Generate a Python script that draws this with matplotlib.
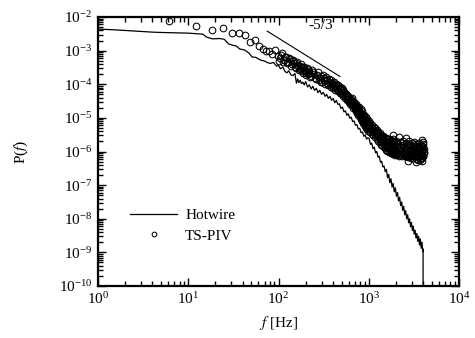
import numpy as np
import matplotlib
matplotlib.use("Agg")
import matplotlib.pyplot as plt
from matplotlib.ticker import LogLocator, NullFormatter

plt.rcParams['font.family'] = ['Liberation Serif', 'DejaVu Serif']
plt.rcParams['mathtext.fontset'] = 'stix'

# ---- Hotwire spectrum: frequency [Hz] and P(f) exponent (log10)
hw_f = [1, 1.5, 2, 3, 4, 5, 7, 10, 14.5, 16, 18.5, 22, 25, 28, 31, 34, 37, 42, 47, 51,
        56, 63, 70, 76, 81, 88, 95, 100, 105, 112, 118, 124, 130, 137, 145, 152, 158, 163,
        168, 174, 180, 186, 193, 200, 210, 220, 230, 240, 250, 262, 274, 287, 300, 314,
        328, 342, 357, 372, 388, 404, 420, 437, 455,
        473, 492, 511, 531, 551, 572, 594, 616, 639, 663, 688, 713, 739, 766, 794, 823,
        852, 882, 913, 945, 978,
        1011, 1045, 1080, 1116, 1152, 1190, 1228, 1267, 1307, 1348,
        1390, 1433, 1477, 1522, 1568, 1615, 1663, 1712, 1762, 1813,
        1865, 1918, 1972, 2027, 2083, 2140, 2198, 2257, 2317, 2378,
        2440, 2503, 2567, 2632, 2698, 2765, 2833, 2902, 2972, 3043,
        3115, 3188, 3262, 3337, 3413, 3490, 3568, 3647, 3727, 3808,
        3890, 3972,
        4000, 4001]
hw_logP = [-2.36, -2.38, -2.40, -2.43, -2.45, -2.46, -2.47, -2.48, -2.51, -2.60, -2.65,
           -2.64, -2.66, -2.80, -2.84, -2.86, -2.95, -2.98, -3.07, -3.19,
           -3.20, -3.28, -3.31, -3.36, -3.38, -3.35, -3.46, -3.44, -3.54, -3.49, -3.62,
           -3.66, -3.60, -3.72, -3.74, -3.68, -3.97, -3.84,
           -3.95, -3.88, -3.98, -3.94, -4.02, -3.92, -4.08, -4.02, -4.14, -4.06, -4.18,
           -4.12, -4.25, -4.18, -4.30, -4.24,
           -4.36, -4.30, -4.42, -4.36, -4.48, -4.42, -4.55, -4.48, -4.60,
           -4.58, -4.72, -4.68, -4.82, -4.79, -4.92, -4.88, -5.01, -4.98, -5.11, -5.09,
           -5.22, -5.20, -5.33, -5.31, -5.44, -5.42, -5.55, -5.51, -5.63, -5.59,
           -5.62, -5.79, -5.75, -5.92, -5.87, -6.04, -6.00, -6.17, -6.14, -6.32,
           -6.29, -6.46, -6.43, -6.60, -6.53, -6.78, -6.68, -6.93, -6.81, -7.06,
           -6.95, -7.20, -7.08, -7.33, -7.22, -7.47, -7.36, -7.61, -7.50, -7.75,
           -7.63, -7.88, -7.76, -8.00, -7.88, -8.12, -8.00, -8.24, -8.11, -8.35,
           -8.22, -8.46, -8.34, -8.57, -8.44, -8.67, -8.52, -8.78, -8.60, -8.88,
           -8.70, -8.98,
           -8.90, -10.6]

# ---- TS-PIV spectrum: frequency [Hz] and P(f) exponent (log10)
piv_f = [6.1, 12.2, 18.3, 24.4, 30.5, 36.6, 42.7, 48.8, 54.9, 61, 67, 73,
         79, 85, 91, 98, 104, 110, 116, 122, 128, 134, 140, 146, 152, 158, 165, 171, 177,
         183, 189, 195, 201, 207, 214, 220, 232, 244, 256, 268, 281, 293, 305, 317, 330,
         342, 354, 366, 378, 391, 403, 415, 427, 439, 452, 464, 476, 488, 500, 513, 525,
         537, 549, 562, 574, 586, 598, 610, 623, 635, 647, 659, 671, 684, 696, 708, 720,
         732, 745, 757, 769, 781, 793, 806, 818, 830, 842, 854, 867, 879, 891, 903, 915,
         928, 940, 952, 964, 977, 989, 1001, 1025, 1050, 1074, 1098, 1123, 1147, 1172,
         1196, 1220, 1245, 1269, 1294, 1318, 1343, 1367, 1391, 1416, 1440, 1465, 1489,
         1514, 1538, 1562, 1587, 1611, 1636, 1660, 1685, 1709, 1733, 1758, 1782, 1807,
         1831, 1856, 1880, 1904, 1929, 1953, 1978, 2002, 2051, 2100, 2148, 2197, 2246,
         2295, 2344, 2393, 2441, 2490, 2539, 2588, 2637, 2686, 2734, 2783, 2832, 2881,
         2930, 2979, 3027, 3076, 3125, 3174, 3223, 3271, 3320, 3369, 3418, 3467, 3516,
         3564, 3613, 3662, 3711, 3760, 3808, 3857, 3906, 3955, 4004, 4053, 4102]
piv_logP = [-2.12, -2.27, -2.39, -2.33, -2.48, -2.48, -2.54, -2.74, -2.68, -2.86, -2.95, -3.01,
            -3.02, -3.10, -2.98, -3.15, -3.22, -3.08, -3.28, -3.20, -3.35, -3.25, -3.40,
            -3.30, -3.48, -3.38, -3.45, -3.55, -3.40,
            -3.62, -3.50, -3.58, -3.66, -3.52, -3.70, -3.60, -3.75, -3.65, -3.80, -3.72,
            -3.88, -3.76, -3.92, -3.82, -3.98,
            -3.86, -4.02, -3.92, -4.08, -3.96, -4.10, -4.00, -4.16, -4.05, -4.20, -4.10,
            -4.26, -4.15, -4.30, -4.18, -4.34,
            -4.24, -4.40, -4.28, -4.46, -4.34, -4.52, -4.40, -4.58, -4.45, -4.62, -4.50,
            -4.70, -4.56, -4.75, -4.62, -4.80,
            -4.66, -4.86, -4.72, -4.92, -4.78, -4.98, -4.82, -5.04, -4.88, -5.08, -4.92,
            -5.14, -4.98, -5.18, -5.04, -5.24,
            -5.08, -5.30, -5.12, -5.34, -5.16, -5.38, -5.20, -5.42, -5.26, -5.48, -5.30,
            -5.52, -5.36, -5.58,
            -5.40, -5.62, -5.46, -5.68, -5.50, -5.72, -5.55, -5.80, -5.58, -5.82, -5.62,
            -5.86, -5.65,
            -5.90, -5.68, -5.95, -5.70, -5.98, -5.72, -6.00, -5.74, -6.02, -5.76, -6.04,
            -5.78, -6.05,
            -5.80, -6.06, -5.62, -5.82, -6.08, -5.84, -6.10, -5.70, -6.08, -5.86, -6.12,
            -5.72, -6.10,
            -5.88, -6.14, -5.68, -6.10, -5.90, -6.14, -5.74, -6.12, -5.92, -6.16, -5.70,
            -6.10, -5.94,
            -6.18, -5.76, -6.08, -5.96, -6.20, -5.72, -6.12, -5.98, -6.22, -5.78, -6.06,
            -5.96, -6.24,
            -5.74, -6.14, -5.92, -6.26, -5.80, -6.10, -5.96, -6.20, -5.78, -6.12, -5.94,
            -6.05]

# more TS-PIV readings in the dense band (intermediate frequencies)
piv_f_dense = [101, 107, 113, 119, 125, 131, 137, 143, 149, 155,
               161, 168, 174, 180, 186, 192, 198, 204, 211, 217,
               226, 238, 250, 262, 274, 287, 299, 311, 323, 336,
               348, 360, 372, 385, 397, 409, 421, 433, 445, 458,
               470, 482, 494, 506, 519, 531, 543, 555, 568, 580,
               592, 604, 616, 629, 641, 653, 665, 678, 690, 702,
               714, 726, 738, 751, 763, 775, 787, 800, 812, 824,
               836, 848, 861, 873, 885, 897, 909, 921, 934, 946,
               958, 970, 983, 995, 1013, 1037, 1062, 1086, 1111, 1135,
               1160, 1184, 1208, 1233, 1257, 1282, 1306, 1330, 1355, 1379,
               1404, 1428, 1453, 1477, 1501, 1526, 1550, 1575, 1599, 1624,
               1648, 1672, 1697, 1721, 1746, 1770, 1794, 1819, 1843, 1868,
               1892, 1917, 1941, 1966, 1990, 2026, 2075, 2124, 2173, 2222,
               2271, 2319, 2368, 2417, 2466, 2515, 2564, 2612, 2661, 2710,
               2759, 2808, 2856, 2905, 2954, 3003, 3052, 3100, 3149, 3198,
               3247, 3296, 3345, 3393, 3442, 3491, 3540, 3589, 3638, 3686,
               3735, 3784, 3833, 3882, 3930, 3979, 4028, 4077, 1840, 2180,
               2560, 3870, 3980, 2750, 3350, 3900]
piv_logP_dense = [-3.30, -3.14, -3.34, -3.18, -3.38, -3.22, -3.45, -3.28, -3.36, -3.52,
                  -3.34, -3.58, -3.46, -3.52, -3.68, -3.48, -3.62, -3.72, -3.56, -3.66,
                  -3.78, -3.58, -3.70, -3.84, -3.64, -3.80, -3.94, -3.72, -3.88, -3.78,
                  -3.96, -3.84, -4.00, -3.88, -4.04, -3.92, -4.08, -3.98, -4.14, -4.02,
                  -4.20, -4.08, -4.24, -4.12, -4.28, -4.22, -4.34, -4.30, -4.42, -4.36,
                  -4.48, -4.44, -4.54, -4.50, -4.56, -4.42, -4.62, -4.64, -4.52, -4.70,
                  -4.72, -4.58, -4.80, -4.76, -4.84, -4.68, -4.88, -4.90, -4.74, -4.96,
                  -4.98, -4.80, -5.04, -5.06, -4.90, -5.12, -5.14, -4.96, -5.20, -5.22,
                  -5.02, -5.26, -5.28, -5.10, -5.32, -5.16, -5.36, -5.22, -5.42, -5.26,
                  -5.46, -5.30, -5.50, -5.36, -5.54, -5.42, -5.60, -5.46, -5.64, -5.50,
                  -5.70, -5.54, -5.74, -5.56, -5.78, -5.80, -5.60, -5.84, -5.86, -5.62,
                  -5.88, -5.90, -5.64, -5.92, -5.94, -5.66, -5.96, -5.98, -5.68, -5.94,
                  -6.02, -5.72, -5.96, -6.04, -5.76, -5.98, -6.04, -5.78, -5.96, -6.06,
                  -5.80, -5.98, -6.08, -5.82, -6.00, -6.08, -5.84, -6.02, -6.10, -5.80,
                  -6.00, -6.06, -5.82, -6.04, -6.12, -5.84, -6.02, -6.10, -5.86, -6.04,
                  -6.14, -5.84, -6.00, -6.12, -5.86, -6.04, -6.16, -5.86, -6.02, -6.12,
                  -5.88, -6.04, -6.18, -5.84, -6.00, -6.14, -5.86, -6.02, -5.52, -5.56,
                  -5.60, -5.66, -5.72, -6.28, -6.30, -6.28]

# -5/3 reference slope segment endpoints
slope_f = [75, 480]
slope_P = [3.8e-3, 1.7e-4]

fig = plt.figure(figsize=(4.75, 3.38), dpi=100)
ax = fig.add_axes([98/475, 1-286/338, 361/475, 269/338])

hw_P = [10.0**v for v in hw_logP]
all_piv_f = piv_f + piv_f_dense
all_piv_P = [10.0**v for v in (piv_logP + piv_logP_dense)]

ax.plot(hw_f, hw_P, color='black', lw=0.9, label='Hotwire')
ax.plot(all_piv_f, all_piv_P, linestyle='none', marker='o', markersize=4.8,
        markerfacecolor='none', markeredgecolor='black', markeredgewidth=0.75,
        label='TS-PIV')
ax.plot(slope_f, slope_P, color='black', lw=0.8)
ax.text(290, 5.6e-3, '-5/3', fontsize=11, ha='center', va='center')

ax.set_xscale('log')
ax.set_yscale('log')
ax.set_xlim(1, 1e4)
ax.set_ylim(1e-10, 1e-2)

ax.xaxis.set_major_locator(LogLocator(base=10, numticks=10))
ax.xaxis.set_minor_locator(LogLocator(base=10, subs=np.arange(2, 10), numticks=50))
ax.yaxis.set_major_locator(LogLocator(base=10, numticks=20))
ax.yaxis.set_minor_locator(LogLocator(base=10, subs=np.arange(2, 10), numticks=50))
ax.xaxis.set_minor_formatter(NullFormatter())
ax.yaxis.set_minor_formatter(NullFormatter())

for s in ax.spines.values():
    s.set_linewidth(1.6)
ax.tick_params(which='both', direction='in', top=True, right=True, labelsize=11)
ax.tick_params(which='major', length=6, width=1.0, pad=4)
ax.tick_params(which='minor', length=3.5, width=1.0)

ax.set_xlabel(r'$f$ [Hz]', fontsize=11, labelpad=5)
ax.set_ylabel(r'P($f$)', fontsize=11, labelpad=21)

ax.legend(loc='upper left', bbox_to_anchor=(0.089, 0.288), frameon=False,
          fontsize=11, handlelength=3.1, handletextpad=0.5, labelspacing=0.45,
          borderpad=0, borderaxespad=0, markerscale=0.7)

fig.savefig('out.png', dpi=100)
